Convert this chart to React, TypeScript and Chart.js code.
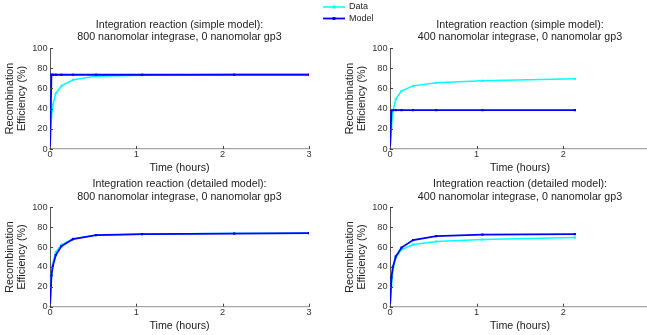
import React, { useEffect, useRef } from 'react';
import { Chart, registerables } from 'chart.js';

Chart.register(...registerables);

// ---- data ----
const timeLong = [0, 0.0167, 0.0333, 0.0667, 0.1333, 0.2667, 0.5333, 1.0667, 2.1333, 3];
const timeShort = [0, 0.0167, 0.0333, 0.0667, 0.1333, 0.2667, 0.5333, 1.0667, 2.1333];

const data800 = [0, 32, 44, 55, 62.5, 68.5, 72, 73, 74, 74];
const simpleModel800 = [0, 73.5, 73.5, 73.5, 73.5, 73.5, 73.5, 73.5, 73.5, 73.5];
const detailedModel800 = [0, 31.5, 41, 52, 61, 68, 72, 73, 73.5, 74];

const data400 = [0, 21, 37, 49.5, 57.5, 62.5, 65.5, 67.5, 69.5];
const simpleModel400 = [0, 38.5, 38.5, 38.5, 38.5, 38.5, 38.5, 38.5, 38.5];
const detailedModel400 = [0, 29.5, 40, 50.5, 59.5, 67, 71, 72.5, 73];

const seriesLabels = ['Data', 'Model'];
const titleTL = ['Integration reaction (simple model):', '800 nanomolar integrase, 0 nanomolar gp3'];
const titleTR = ['Integration reaction (simple model):', '400 nanomolar integrase, 0 nanomolar gp3'];
const titleBL = ['Integration reaction (detailed model):', '800 nanomolar integrase, 0 nanomolar gp3'];
const titleBR = ['Integration reaction (detailed model):', '400 nanomolar integrase, 0 nanomolar gp3'];
const yTitle = ['Recombination', 'Efficiency (%)'];
const xTitle = 'Time (hours)';
const xRange = [0, 3];
const yRange = [0, 100];

const FONT = '"Liberation Sans", Arial, Helvetica, sans-serif';
const DATA_COLOR = '#00ffff';
const MODEL_COLOR = '#0000ff';

const pts = (xs: number[], ys: number[]) => xs.map((x, i) => ({ x, y: ys[i] }));

const inwardTicks = {
  id: 'inwardTicks',
  afterDatasetsDraw(chart: any) {
    const { ctx, chartArea } = chart;
    const x = chart.scales.x;
    const y = chart.scales.y;
    ctx.save();
    ctx.strokeStyle = '#444';
    ctx.lineWidth = 1;
    y.ticks.forEach((t: any) => {
      const py = Math.round(y.getPixelForValue(t.value)) + 0.5;
      ctx.beginPath();
      ctx.moveTo(chartArea.left, py);
      ctx.lineTo(chartArea.left + 3, py);
      ctx.stroke();
    });
    x.ticks.forEach((t: any) => {
      const px = Math.round(x.getPixelForValue(t.value)) + 0.5;
      ctx.beginPath();
      ctx.moveTo(px, chartArea.bottom);
      ctx.lineTo(px, chartArea.bottom - 3);
      ctx.stroke();
    });
    ctx.restore();
  },
};

const sideLegend = {
  id: 'sideLegend',
  afterDraw(chart: any, _args: any, opts: any) {
    if (!opts || !opts.show) return;
    const ctx = chart.ctx;
    ctx.save();
    chart.data.datasets.forEach((ds: any, i: number) => {
      const y = opts.y + i * opts.spacing;
      ctx.strokeStyle = ds.borderColor;
      ctx.lineWidth = ds.borderWidth;
      ctx.beginPath();
      ctx.moveTo(opts.x, y);
      ctx.lineTo(opts.x + 22, y);
      ctx.stroke();
      ctx.fillStyle = ds.borderColor;
      ctx.fillRect(opts.x + 11 - 1.5, y - 1.5, 3, 3);
      ctx.fillStyle = '#222';
      ctx.font = `9px ${FONT}`;
      ctx.textBaseline = 'middle';
      ctx.textAlign = 'left';
      ctx.fillText(ds.label, opts.x + 26, y);
    });
    ctx.restore();
  },
};

type PanelCfg = {
  left: number; top: number; w: number; h: number;
  padRight: number; yWidth: number; xHeight: number;
  titlePadTop: number; titlePadBottom: number;
  yTitlePadTop: number; xTitlePadBottom: number;
  title: string[]; times: number[]; dataVals: number[]; modelVals: number[];
  legend?: boolean;
};

const panels: PanelCfg[] = [
  { left: 0, top: 0, w: 330, h: 175, padRight: 21, yWidth: 50, xHeight: 26, titlePadTop: 18.75, titlePadBottom: 4.25,
    yTitlePadTop: 4.5, xTitlePadBottom: 0.6, title: titleTL, times: timeLong, dataVals: data800, modelVals: simpleModel800 },
  { left: 320, top: 0, w: 340, h: 175, padRight: 10, yWidth: 70, xHeight: 26, titlePadTop: 18.75, titlePadBottom: 4.25,
    yTitlePadTop: 24.5, xTitlePadBottom: 0.6, title: titleTR, times: timeShort, dataVals: data400, modelVals: simpleModel400, legend: true },
  { left: 0, top: 175, w: 330, h: 160, padRight: 21, yWidth: 50, xHeight: 28.3, titlePadTop: 3.25, titlePadBottom: 4.05,
    yTitlePadTop: 4.5, xTitlePadBottom: 2.6, title: titleBL, times: timeLong, dataVals: data800, modelVals: detailedModel800 },
  { left: 320, top: 175, w: 340, h: 160, padRight: 10, yWidth: 70, xHeight: 28.3, titlePadTop: 3.25, titlePadBottom: 4.05,
    yTitlePadTop: 24.5, xTitlePadBottom: 2.6, title: titleBR, times: timeShort, dataVals: data400, modelVals: detailedModel400 },
];

function Panel({ cfg }: { cfg: PanelCfg }) {
  const ref = useRef<HTMLCanvasElement | null>(null);
  useEffect(() => {
    if (!ref.current) return;
    const tickFont = { family: FONT, size: 9.2, lineHeight: 1.2 };
    const chart = new Chart(ref.current, {
      type: 'line',
      data: {
        datasets: [
          {
            label: seriesLabels[0],
            data: pts(cfg.times, cfg.dataVals),
            borderColor: DATA_COLOR,
            backgroundColor: DATA_COLOR,
            borderWidth: 1.5,
            pointStyle: 'rect',
            pointRadius: 1.5,
            pointBorderWidth: 0,
            tension: 0,
            order: 1,
          },
          {
            label: seriesLabels[1],
            data: pts(cfg.times, cfg.modelVals),
            borderColor: MODEL_COLOR,
            backgroundColor: MODEL_COLOR,
            borderWidth: 1.8,
            pointStyle: 'rect',
            pointRadius: 1.6,
            pointBorderWidth: 0,
            tension: 0,
            order: 0,
          },
        ],
      },
      options: {
        responsive: false,
        animation: false,
        devicePixelRatio: 1,
        events: [],
        layout: { padding: { left: 0, top: 0, right: cfg.padRight, bottom: 0 } },
        plugins: {
          legend: { display: false },
          tooltip: { enabled: false },
          title: {
            display: true,
            fullSize: false,
            text: cfg.title,
            color: '#222',
            font: { family: FONT, size: 10.7, weight: 'normal', lineHeight: 12.5 / 10.7 },
            padding: { top: cfg.titlePadTop, bottom: cfg.titlePadBottom },
          },
          sideLegend: { show: !!cfg.legend, x: 3, y: 7, spacing: 11.5 },
        } as any,
        scales: {
          x: {
            type: 'linear',
            min: xRange[0],
            max: xRange[1],
            ticks: { stepSize: 1, font: tickFont, color: '#333', padding: 0, maxRotation: 0 },
            grid: { drawOnChartArea: false, drawTicks: false },
            border: { display: true, color: '#a6a6a6', width: 1.2 },
            title: {
              display: true, text: xTitle, color: '#222',
              font: { family: FONT, size: 10.7, lineHeight: 1.2 },
              padding: { top: 0, bottom: cfg.xTitlePadBottom },
            },
            afterFit: (s: any) => { s.height = cfg.xHeight; },
          },
          y: {
            type: 'linear',
            min: yRange[0],
            max: yRange[1],
            ticks: { stepSize: 20, font: tickFont, color: '#333', padding: 2.5 },
            grid: { drawOnChartArea: false, drawTicks: false },
            border: { display: true, color: '#555', width: 1 },
            title: {
              display: true, text: yTitle, color: '#222',
              font: { family: FONT, size: 10.7, lineHeight: 12 / 10.7 },
              padding: { top: cfg.yTitlePadTop, bottom: 0 },
            },
            afterFit: (s: any) => { s.width = cfg.yWidth; },
          },
        },
      },
      plugins: [inwardTicks, sideLegend],
    } as any);
    return () => chart.destroy();
  }, [cfg]);
  return (
    <canvas
      ref={ref}
      width={cfg.w}
      height={cfg.h}
      style={{ position: 'absolute', left: cfg.left, top: cfg.top, width: cfg.w, height: cfg.h }}
    />
  );
}

export default function App() {
  return (
    <div style={{ position: 'fixed', left: 0, top: 0, width: 647, height: 335, overflow: 'hidden', background: '#fff' }}>
      {panels.map((p, i) => <Panel key={i} cfg={p} />)}
    </div>
  );
}
